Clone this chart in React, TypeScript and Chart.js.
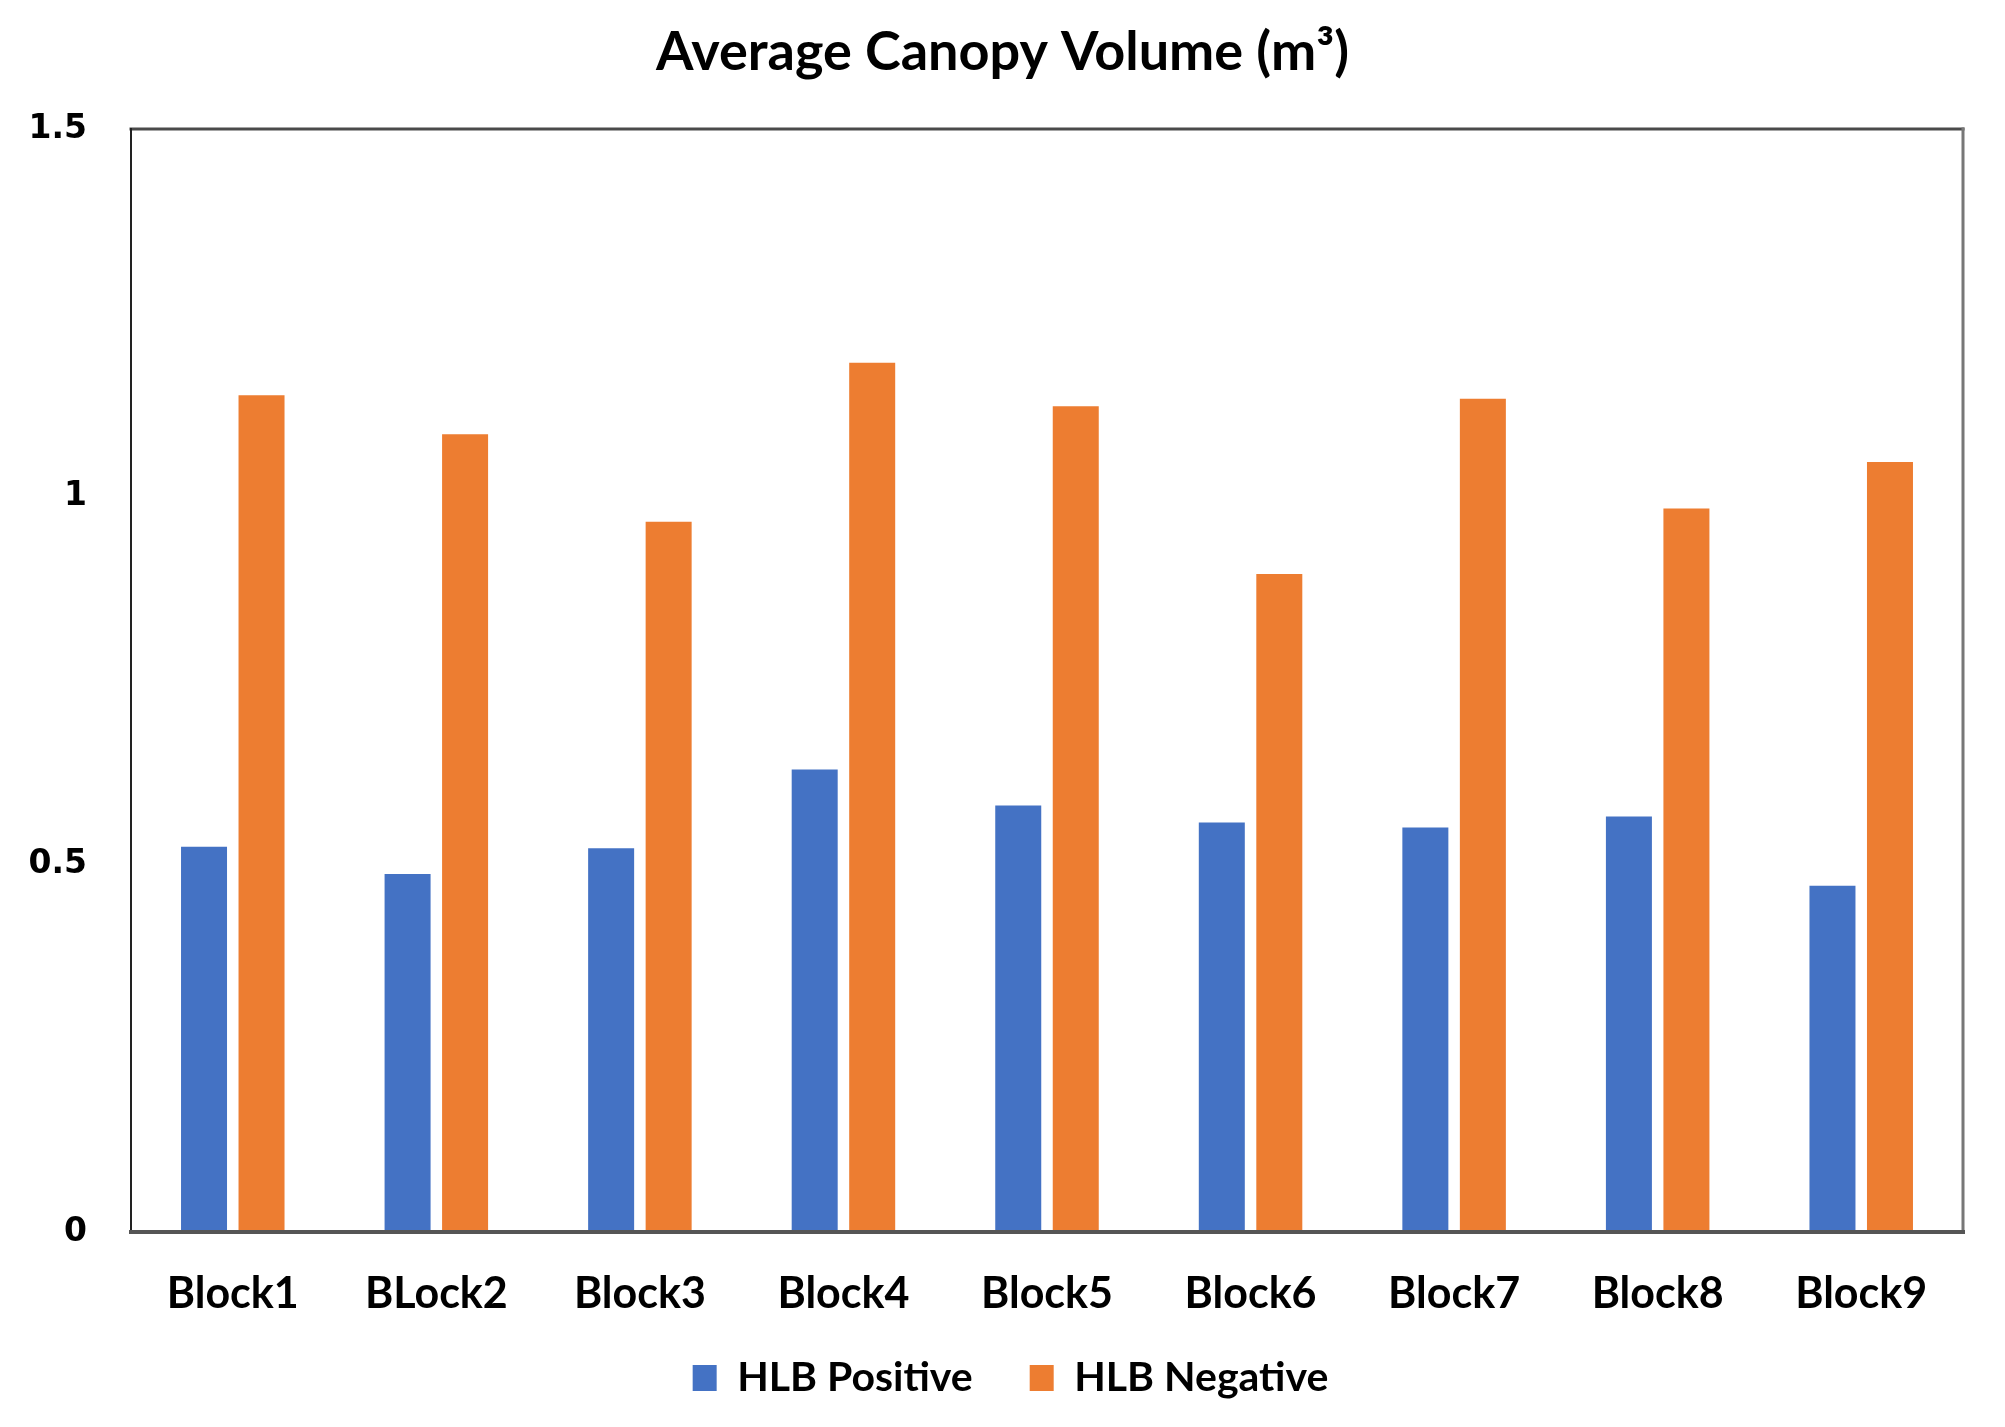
import React, { useEffect, useRef } from "react";
import { Chart, registerables } from "chart.js";

Chart.register(...registerables);

const categories = ["Block1", "BLock2", "Block3", "Block4", "Block5", "Block6", "Block7", "Block8", "Block9"];
const hlbPositive = [0.524, 0.487, 0.522, 0.629, 0.580, 0.557, 0.550, 0.565, 0.471];
const hlbNegative = [1.138, 1.085, 0.966, 1.182, 1.123, 0.895, 1.133, 0.984, 1.047];
const seriesNames = ["HLB Positive", "HLB Negative"];
const titleText = "Average Canopy Volume (m³)";
const yTicks = [0, 0.5, 1, 1.5];

const frame = {
  id: "frame",
  afterDraw(chart: any) {
    const { ctx, chartArea: a } = chart;
    ctx.save();
    ctx.lineCap = "square";
    ctx.strokeStyle = "#4a4a4a";
    ctx.lineWidth = 3;
    ctx.beginPath(); ctx.moveTo(a.left, a.top); ctx.lineTo(a.right, a.top); ctx.stroke();
    ctx.strokeStyle = "#777777";
    ctx.lineWidth = 3;
    ctx.beginPath(); ctx.moveTo(a.right, a.top); ctx.lineTo(a.right, a.bottom); ctx.stroke();
    ctx.strokeStyle = "#222222";
    ctx.lineWidth = 2;
    ctx.beginPath(); ctx.moveTo(a.left, a.top); ctx.lineTo(a.left, a.bottom); ctx.stroke();
    ctx.strokeStyle = "#555555";
    ctx.lineWidth = 4;
    ctx.beginPath(); ctx.moveTo(a.left, a.bottom); ctx.lineTo(a.right, a.bottom); ctx.stroke();
    ctx.restore();
  },
};

const boxShift = {
  id: "boxShift",
  afterLayout(chart: any) {
    const lg = chart.legend;
    if (lg) {
      lg.top -= 18.5;
      lg.bottom -= 18.5;
      lg.left += 29;
      lg.right += 29;
    }
    const tb = chart.titleBlock;
    if (tb) {
      tb.left += 21;
      tb.right += 21;
      tb.top += 2;
      tb.bottom += 2;
    }
  },
};

export default function App() {
  const ref = useRef<HTMLCanvasElement>(null);
  useEffect(() => {
    if (!ref.current) return;
    const chart = new Chart(ref.current, {
      type: "bar",
      data: {
        labels: categories,
        datasets: [
          { label: seriesNames[0], data: hlbPositive, backgroundColor: "#4472C4", categoryPercentage: 0.565, barPercentage: 0.8 },
          { label: seriesNames[1], data: hlbNegative, backgroundColor: "#ED7D31", categoryPercentage: 0.565, barPercentage: 0.8 },
        ],
      },
      options: {
        animation: false,
        responsive: true,
        maintainAspectRatio: false,
        layout: { padding: { left: 0, right: 42, top: 0, bottom: 0 } },
        plugins: {
          title: {
            display: true,
            text: titleText,
            color: "#000",
            font: { family: "Lato", size: 54, weight: "bold" },
            padding: { top: 18.6, bottom: 45.6 },
          },
          legend: {
            position: "bottom",
            labels: {
              color: "#000",
              font: { family: "Lato", size: 41, weight: "bold" },
              boxWidth: 24,
              boxHeight: 26,
              padding: 57,
            },
          },
          tooltip: { enabled: false },
        },
        scales: {
          x: {
            grid: { display: false, drawTicks: false },
            border: { display: false },
            ticks: { color: "#000", font: { family: "Lato", size: 43, weight: "bold" }, padding: 36, maxRotation: 0 },
            afterFit: (s: any) => { s.height = 87; },
          },
          y: {
            min: 0,
            max: 1.5,
            grid: { display: false, drawTicks: false },
            border: { display: false },
            afterBuildTicks: (s: any) => { s.ticks = yTicks.map((v) => ({ value: v })); },
            ticks: {
              color: "#000",
              font: { family: "DejaVu Sans", size: 33, weight: "bold" },
              padding: 44,
              callback: (v: any) => String(Number(v)),
            },
            afterFit: (s: any) => { s.width = 131; },
          },
        },
      },
      plugins: [frame, boxShift],
    });
    return () => chart.destroy();
  }, []);
  return (
    <div style={{ position: "absolute", left: 0, top: 0, width: 2005, height: 1427, background: "#fff" }}>
      <canvas ref={ref} />
    </div>
  );
}
